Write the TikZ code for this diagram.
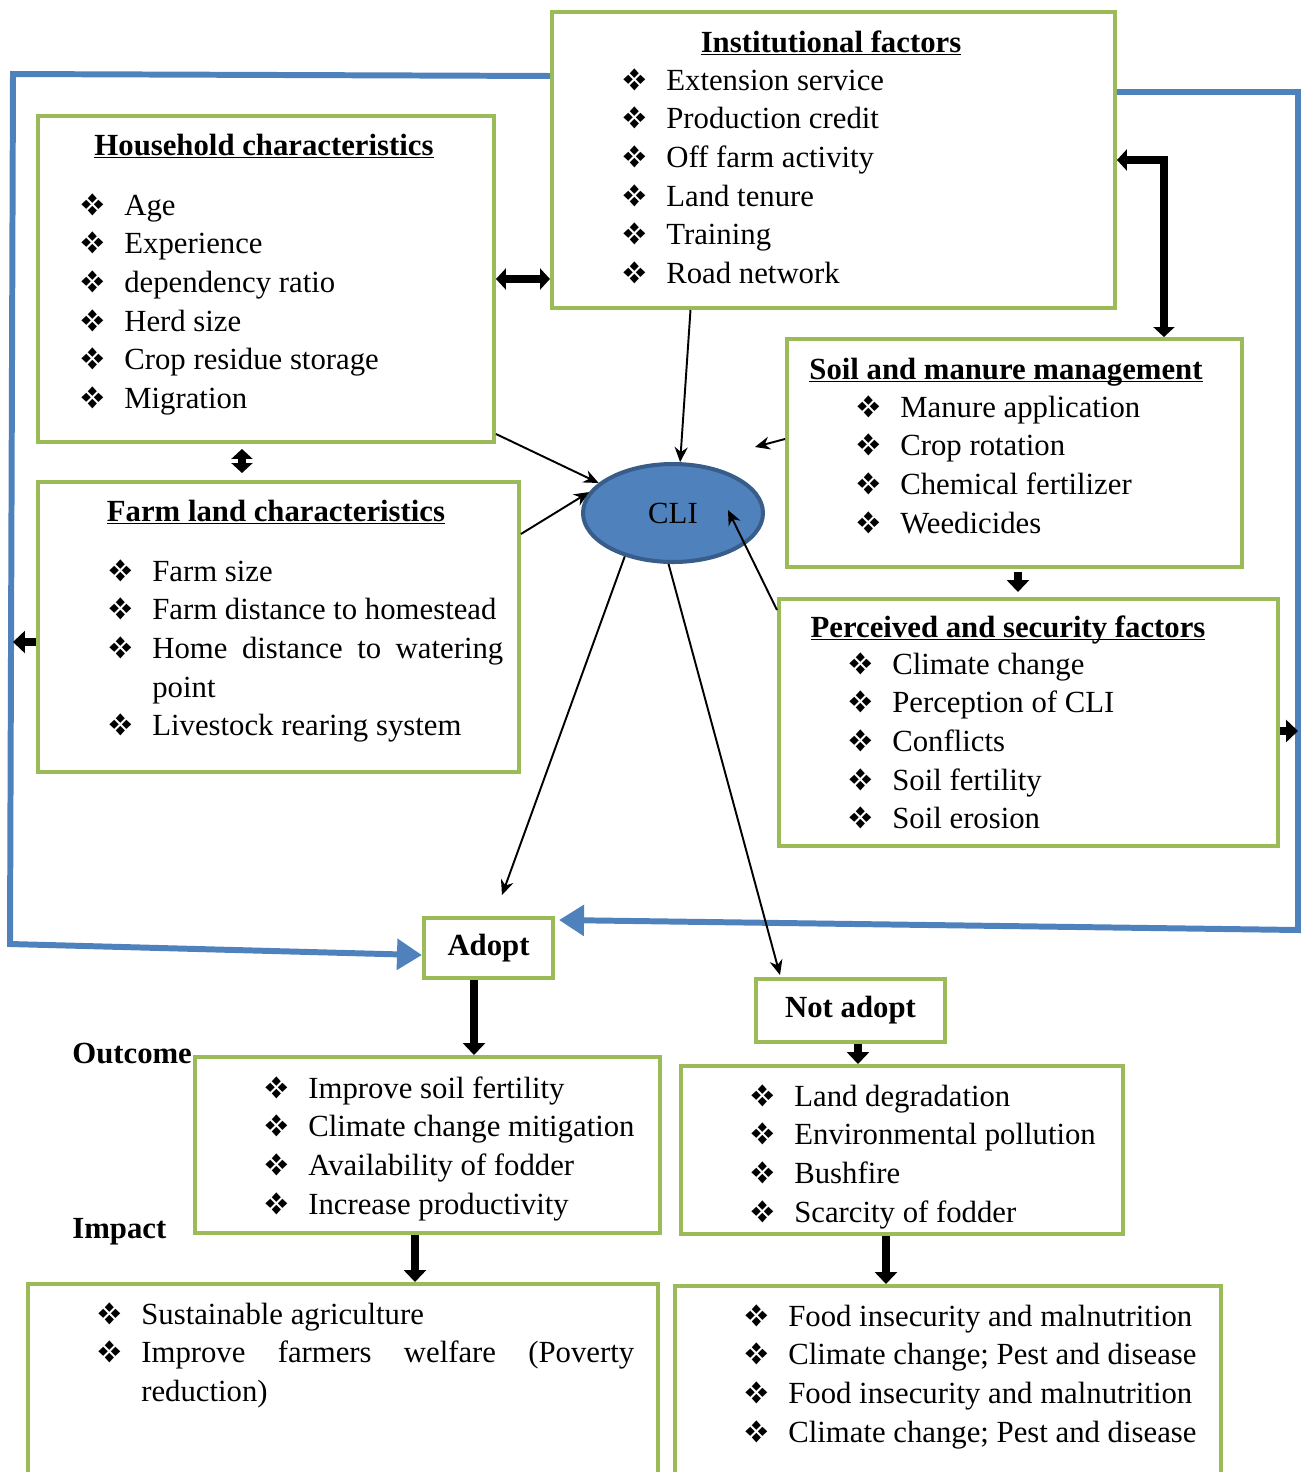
\documentclass[tikz,border=0pt]{standalone}
\usepackage{fontspec}
\setmainfont{Liberation Serif}
\usepackage{pifont}
\usetikzlibrary{arrows.meta,shapes.geometric}

\definecolor{boxgreen}{HTML}{9BBB59}
\definecolor{lineblue}{HTML}{4F81BD}
\definecolor{cliedge}{HTML}{385D8A}

% list item and box title
\newcommand{\itm}[1]{\noindent\hangindent=0.88cm\hangafter=1\makebox[0.88cm][l]{\ding{118}}#1\par}
\newcommand{\ttl}[1]{\underline{\smash{\textbf{#1}}}}
\hyphenpenalty=10000
\tolerance=10000

\begin{document}
\begin{tikzpicture}[x=0.02cm,y=-0.02cm,
    font=\fontsize{17.5}{22}\selectfont,
    box/.style={draw=boxgreen,line width=2.3pt,fill=white,anchor=north west,inner sep=0pt},
    lst/.style={anchor=north west,inner sep=0pt,text width=#1,align=justify},
    ttlnode/.style={inner sep=0pt,anchor=base},
    thinarrow/.style={line width=1.1pt,-{Stealth[length=0.3cm,width=0.26cm]}},
    fat/.style={line width=4.5pt,-{Triangle[length=0.24cm,width=0.44cm]}},
    fatboth/.style={line width=4.5pt,{Triangle[length=0.2cm,width=0.42cm]}-{Triangle[length=0.2cm,width=0.42cm]}},
    blueline/.style={draw=lineblue,line width=3.4pt,-{Triangle[length=0.5cm,width=0.6cm]}}]

\clip (0,0) rectangle (1306,1472);

% Green boxes
\node[box,minimum width=11.26cm,minimum height=5.92cm] (inst) at (550,10) {};
\node[box,minimum width=9.12cm,minimum height=6.52cm] (hh) at (36,114) {};
\node[box,minimum width=9.62cm,minimum height=5.80cm] (farm) at (36,480) {};
\node[box,minimum width=9.10cm,minimum height=4.56cm] (soil) at (785,337) {};
\node[box,minimum width=9.98cm,minimum height=4.94cm] (perc) at (777,597) {};
\node[box,minimum width=2.58cm,minimum height=1.20cm] (adopt) at (422,916) {\textbf{Adopt}};
\node[box,minimum width=3.78cm,minimum height=1.26cm] (notadopt) at (754,977) {\textbf{Not adopt}};
\node[box,minimum width=9.30cm,minimum height=3.52cm] (outA) at (193,1055) {};
\node[box,minimum width=8.84cm,minimum height=3.36cm] (outN) at (679,1064) {};
\node[box,minimum width=12.60cm,minimum height=4.2cm] (impA) at (26,1282) {};
\node[box,minimum width=10.92cm,minimum height=4.2cm] (impN) at (673,1284) {};

% CLI
\node[ellipse,draw=cliedge,fill=lineblue,line width=2.3pt,
    minimum width=3.6cm,minimum height=1.96cm] (cli) at (673,513) {CLI};

% Titles
\node[ttlnode] (insttitle) at (831,52) {\ttl{Institutional factors}};
\node[ttlnode] (hhtitle) at (264,155) {\ttl{Household characteristics}};
\node[ttlnode] (farmtitle) at (276,521) {\ttl{Farm land characteristics}};
\node[ttlnode] (soiltitle) at (1006,379) {\ttl{Soil and manure management}};
\node[ttlnode] (perctitle) at (1008,637) {\ttl{Perceived and security factors}};
\node[anchor=base west,inner sep=0pt] (outcome) at (72,1063) {\textbf{Outcome}};
\node[anchor=base west,inner sep=0pt] (impact) at (72,1238) {\textbf{Impact}};

% Lists
\node[lst=9cm] (instlist) at (622,68) {\itm{Extension service}\itm{Production credit}\itm{Off farm activity}%
    \itm{Land tenure}\itm{Training}\itm{Road network}};
\node[lst=8cm] (hhlist) at (80,193) {\itm{Age}\itm{Experience}\itm{dependency ratio}%
    \itm{Herd size}\itm{Crop residue storage}\itm{Migration}};
\node[lst=7.9cm] (farmlist) at (108,559) {\itm{Farm size}\itm{Farm distance to homestead}%
    \itm{Home distance to watering point}\itm{Livestock rearing system}};
\node[lst=8cm] (soillist) at (856,395) {\itm{Manure application}\itm{Crop rotation}%
    \itm{Chemical fertilizer}\itm{Weedicides}};
\node[lst=8cm] (perclist) at (848,652) {\itm{Climate change}\itm{Perception of CLI}\itm{Conflicts}%
    \itm{Soil fertility}\itm{Soil erosion}};
\node[lst=8cm] (outAlist) at (264,1076) {\itm{Improve soil fertility}\itm{Climate change mitigation}%
    \itm{Availability of fodder}\itm{Increase productivity}};
\node[lst=8cm] (outNlist) at (750,1084) {\itm{Land degradation}\itm{Environmental pollution}%
    \itm{Bushfire}\itm{Scarcity of fodder}};
\node[lst=10.74cm] (impAlist) at (97,1302) {\itm{Sustainable agriculture}%
    \itm{Improve farmers welfare (Poverty reduction)}};
\node[lst=10cm] (impNlist) at (744,1304) {\itm{Food insecurity and malnutrition}%
    \itm{Climate change; Pest and disease}\itm{Food insecurity and malnutrition}%
    \itm{Climate change; Pest and disease}};

% Blue feedback lines
\coordinate (bl1) at (13,74);
\coordinate (bl2) at (10,944);
\coordinate (br1) at (1298,92);
\coordinate (br2) at (1298,930);
\draw[blueline] ([yshift=-1.32cm]inst.north west) -- (bl1) -- (bl2) -- ([yshift=-0.14cm]adopt.west);
\draw[blueline] ([yshift=-1.64cm]inst.north east) -- (br1) -- (br2)
    -- ([xshift=0.08cm,yshift=-0.08cm]adopt.north east);

% Thin arrows to and from CLI
\coordinate (soiltip) at (755,447);
\draw[thinarrow] ([yshift=0.2cm]hh.south east) -- (cli.158);
\draw[thinarrow] ([yshift=-1.08cm]farm.north east) -- (cli.166);
\draw[thinarrow] ([xshift=-2.86cm]inst.south) -- (cli.82);
\draw[thinarrow] ([yshift=0.28cm]soil.west) -- (soiltip);
\draw[thinarrow] ([yshift=-0.26cm]perc.north west) -- ([xshift=1.1cm,yshift=0.06cm]cli.center);
\draw[thinarrow] (cli.222) -- ([xshift=0.27cm,yshift=0.42cm]adopt.north);
\draw[thinarrow] (cli.265) -- ([xshift=0.52cm,yshift=0.04cm]notadopt.north west);

% Thick arrows
\coordinate (hhf) at ([xshift=-0.48cm,yshift=-0.1cm]hh.south);
\coordinate (farmf) at ([xshift=-0.48cm,yshift=0.14cm]hh.south |- farm.north);
\coordinate (soilin) at ([xshift=-1.6cm]soil.north east);
\coordinate (farmout) at ([yshift=-0.3cm]farm.west);
\coordinate (percout) at ([yshift=-0.17cm]perc.east);
\coordinate (soilout) at ([xshift=0.07cm,yshift=-0.06cm]soil.south);
\coordinate (adoptout) at ([xshift=-0.29cm]adopt.south);
\coordinate (notout) at ([xshift=0.15cm]notadopt.south);
\coordinate (outAout) at ([xshift=-0.25cm]outA.south);
\coordinate (outNout) at ([xshift=-0.32cm]outN.south);
\draw[fatboth] (hh.east) -- (hh.east -| inst.west);
\draw[fatboth] (hhf) -- (hhf |- farmf);
\draw[fatboth] (inst.east) -| (soilin);
\draw[fat] (farmout) -- (farmout -| bl1);
\draw[fat] (percout) -- (percout -| br1);
\draw[fat,shorten >=0.1cm] (soilout) -- (soilout |- perc.north);
\draw[fat] (adoptout) -- (adoptout |- outA.north);
\draw[fat] (notout) -- (notout |- outN.north);
\draw[fat] (outAout) -- (outAout |- impA.north);
\draw[fat] (outNout) -- (outNout |- impN.north);
\end{tikzpicture}
\end{document}
